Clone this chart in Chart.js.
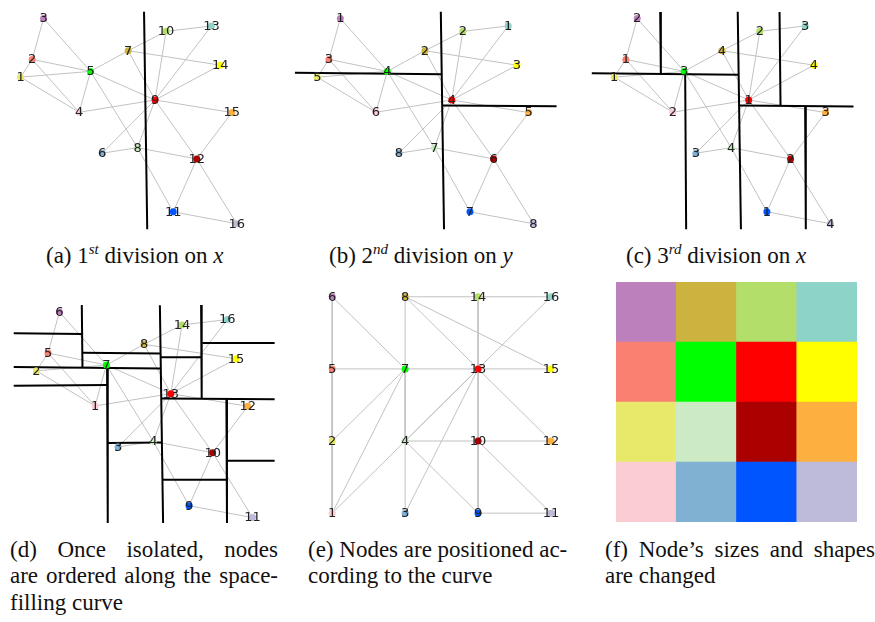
<!DOCTYPE html>
<html>
<head>
<meta charset="utf-8">
<script src="https://cdn.jsdelivr.net/npm/chart.js@4.4.1/dist/chart.umd.min.js"></script>
<style>
  body { margin: 0; background: #fff; }
  #fig { position: relative; width: 875px; height: 622px; overflow: hidden; background: #fff; }
  canvas { position: absolute; }
  .cap { position: absolute; font-family: "Liberation Serif", serif; font-size: 23px; line-height: 27px; color: #111; white-space: nowrap; }
  .just { text-align: justify; text-align-last: justify; }
  .sup { font-size: 15px; font-style: italic; position: relative; top: -9px; }
  .it { font-style: italic; }
</style>
</head>
<body>
<div id="fig">
  <canvas id="pa" width="290" height="240" style="left:0px;top:0px"></canvas>
  <canvas id="pb" width="292" height="240" style="left:288px;top:0px"></canvas>
  <canvas id="pc" width="295" height="240" style="left:580px;top:0px"></canvas>
  <canvas id="pd" width="290" height="250" style="left:0px;top:280px"></canvas>
  <canvas id="pe" width="290" height="250" style="left:300px;top:280px"></canvas>
  <canvas id="pf" width="241" height="240" style="left:616px;top:282px"></canvas>

  <div class="cap" style="left:46px;top:242px">(a) 1<span class="sup">st</span> division on <span class="it">x</span></div>
  <div class="cap" style="left:329px;top:242px">(b) 2<span class="sup">nd</span> division on <span class="it">y</span></div>
  <div class="cap" style="left:626px;top:242px">(c) 3<span class="sup">rd</span> division on <span class="it">x</span></div>

  <div class="cap just" style="left:10px;top:536px;width:268px">(d) Once isolated, nodes</div>
  <div class="cap just" style="left:10px;top:562px;width:268px">are ordered along the space-</div>
  <div class="cap" style="left:10px;top:589px">filling curve</div>

  <div class="cap just" style="left:308px;top:536px;width:259px">(e) Nodes are positioned ac-</div>
  <div class="cap" style="left:308px;top:562px">cording to the curve</div>

  <div class="cap just" style="left:605px;top:536px;width:270px">(f) Node’s sizes and shapes</div>
  <div class="cap" style="left:605px;top:562px">are changed</div>
</div>

<script>
// graph layout; index = original node id - 1
const nodeX = [17, 29, 40.7, 77.3, 89, 101, 127.7, 137.3, 155.3, 166.7, 174, 198.3, 213.3, 222.3, 234.3, 239.3];
const nodeY = [75.7, 57.3, 15, 112, 69.7, 154.3, 48.3, 148.7, 99.3, 28.3, 215, 160.3, 22.7, 63.3, 112.3, 227.3];
const nodeColors = ['#e8e86a', '#fa8072', '#bc80bd', '#fbcdd2', '#00ff00', '#80b1d3', '#ccb340', '#ccebc5',
                    '#ff0000', '#b3de69', '#0055ff', '#aa0000', '#8dd3c7', '#ffff00', '#fdb040', '#bebada'];

// labels shown on each panel
const labelsA = [1, 2, 3, 4, 5, 6, 7, 8, 9, 10, 11, 12, 13, 14, 15, 16];
const labelsB = [5, 3, 1, 6, 4, 8, 2, 7, 4, 2, 7, 6, 1, 3, 5, 8];
const labelsC = [1, 1, 2, 2, 3, 3, 4, 4, 1, 2, 1, 2, 3, 4, 3, 4];
const labelsD = [2, 5, 6, 1, 7, 3, 8, 4, 13, 14, 9, 10, 16, 15, 12, 11];

// grid slot of each node once placed on the curve (e)
const gridCol = [0, 0, 0, 0, 1, 1, 1, 1, 2, 2, 2, 2, 3, 3, 3, 3];
const gridRow = [1, 2, 3, 0, 2, 0, 3, 1, 2, 3, 0, 1, 3, 2, 1, 0];

// edges, original ids
const edges = [
  [3, 2], [2, 1], [3, 5], [2, 5], [1, 5], [1, 4], [2, 4], [4, 5], [4, 9], [5, 7],
  [5, 9], [5, 8], [7, 10], [7, 14], [7, 9], [10, 13], [10, 9], [13, 9], [14, 9], [9, 15],
  [9, 12], [9, 6], [9, 8], [6, 8], [8, 12], [8, 11], [12, 15], [12, 11], [12, 16], [11, 16]
];

// division lines [x1, y1, x2, y2], same frame as the nodes
const mainCut = [144, 8, 147.3, 233];
const cutsA = [mainCut];
const cutsB = [mainCut, [-6, 71, 145, 72.7], [145.4, 105, 263, 105.7]];
const cutsC = [mainCut, [-6, 71.7, 145, 73.3], [64.3, 8.3, 65, 72.5], [90, 72.5, 91, 233],
               [145.4, 105, 263, 106], [187, 8.3, 188, 105.5], [213.3, 106, 214, 233]];
const cutsD = [mainCut, [-6.3, 37, 63.7, 37.7], [63.7, 7.7, 64.4, 72], [64.4, 57, 144.5, 57.7],
               [-6.3, 71.7, 144.5, 73.3], [-6.3, 91, 89.7, 90.3], [89.7, 72, 90.4, 233],
               [144.8, 61.7, 187, 61.7], [186.4, 7.7, 187, 104.3], [187.7, 47, 262, 47],
               [145.4, 104.3, 262, 105], [212.4, 105, 213, 233], [90.4, 150.3, 145.8, 149.7],
               [146.6, 188.3, 212.4, 188.3], [213.7, 168.7, 262, 168.7]];

// draws the node numbers on top of the dots
const nodeLabels = {
  id: 'nodeLabels',
  afterDatasetsDraw(chart, args, opts) {
    const meta = chart.getDatasetMeta(0);
    const ctx = chart.ctx;
    ctx.save();
    ctx.font = '13px "DejaVu Sans"';
    ctx.fillStyle = '#222';
    ctx.textAlign = 'center';
    ctx.textBaseline = 'middle';
    meta.data.forEach((pt, i) => {
      ctx.fillText(String(opts.labels[i]), pt.x, pt.y + 0.5);
    });
    ctx.restore();
  }
};

function criaGrafo(canvasId, xs, ys, labels, cuts, xr, yr, rev) {
  const datasets = [];
  datasets.push({
    data: xs.map((x, i) => ({ x: x, y: ys[i] })),
    pointBackgroundColor: nodeColors,
    pointBorderWidth: 0,
    pointRadius: 3.5,
    showLine: false,
    order: 0
  });
  cuts.forEach(c => {
    datasets.push({
      data: [{ x: c[0], y: c[1] }, { x: c[2], y: c[3] }],
      showLine: true,
      borderColor: '#000',
      borderWidth: 2,
      pointRadius: 0,
      order: 1
    });
  });
  edges.forEach(e => {
    const a = e[0] - 1, b = e[1] - 1;
    datasets.push({
      data: [{ x: xs[a], y: ys[a] }, { x: xs[b], y: ys[b] }],
      showLine: true,
      borderColor: '#c2c2c2',
      borderWidth: 1,
      pointRadius: 0,
      order: 2
    });
  });

  new Chart(document.getElementById(canvasId), {
    type: 'scatter',
    data: { datasets: datasets },
    options: {
      responsive: false,
      animation: false,
      events: [],
      layout: { padding: 0 },
      scales: {
        x: { type: 'linear', display: false, min: xr[0], max: xr[1] },
        y: { type: 'linear', display: false, min: yr[0], max: yr[1], reverse: rev }
      },
      plugins: {
        legend: { display: false },
        tooltip: { enabled: false },
        nodeLabels: { labels: labels }
      }
    },
    plugins: [nodeLabels]
  });
}

criaGrafo('pa', nodeX, nodeY, labelsA, cutsA, [0, 290], [0, 240], true);
criaGrafo('pb', nodeX, nodeY, labelsB, cutsB, [-9, 283], [0, 240], true);
criaGrafo('pc', nodeX, nodeY, labelsC, cutsC, [-14, 281], [0, 240], true);
criaGrafo('pd', nodeX, nodeY, labelsD, cutsD, [-16.3, 273.7], [-14, 236], true);
criaGrafo('pe', gridCol, gridRow, labelsD, [], [-0.387, 3.48], [-0.178, 3.177], false);

// (f) grid of coloured cells, one stacked bar per column
const colNames = ['c1', 'c2', 'c3', 'c4'];
const cellDatasets = [];
for (let r = 0; r < 4; r++) {
  const cores = colNames.map((n, c) => {
    const i = gridCol.findIndex((gc, k) => gc === c && gridRow[k] === r);
    return nodeColors[i];
  });
  cellDatasets.push({
    data: [1, 1, 1, 1],
    backgroundColor: cores,
    borderWidth: 0,
    categoryPercentage: 1,
    barPercentage: 1
  });
}

new Chart(document.getElementById('pf'), {
  type: 'bar',
  data: { labels: colNames, datasets: cellDatasets },
  options: {
    responsive: false,
    animation: false,
    events: [],
    layout: { padding: 0 },
    scales: {
      x: { stacked: true, display: false },
      y: { stacked: true, display: false, min: 0, max: 4 }
    },
    plugins: { legend: { display: false }, tooltip: { enabled: false } }
  }
});
</script>
</body>
</html>
